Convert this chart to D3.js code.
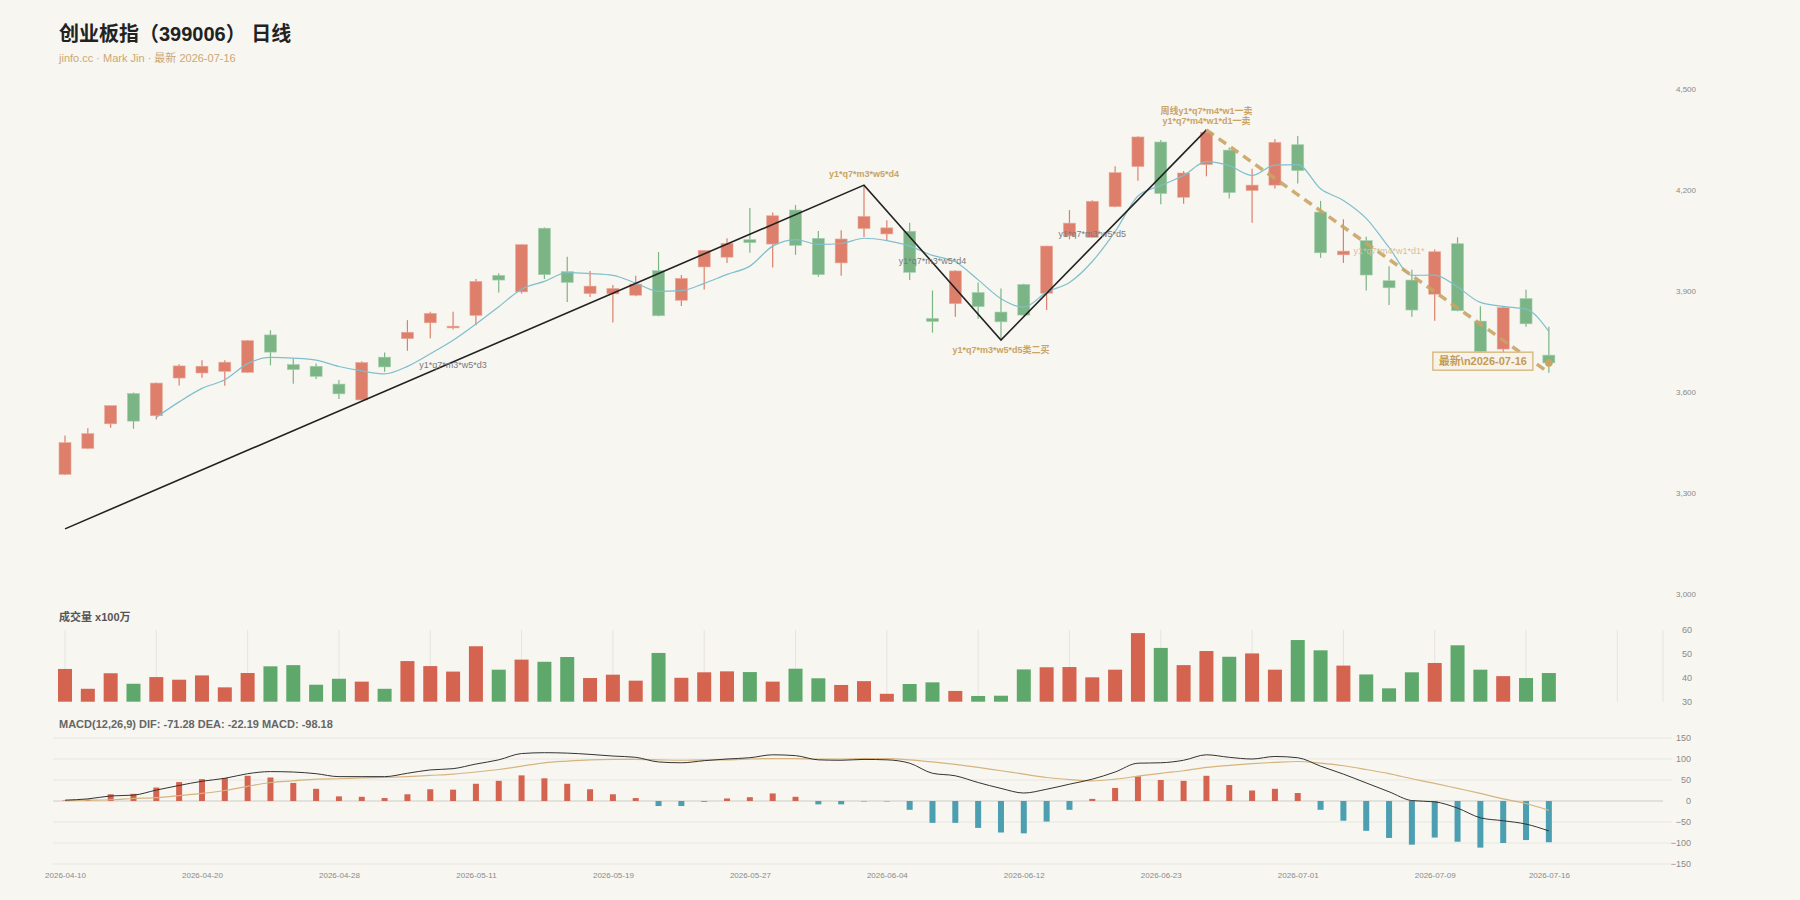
<!DOCTYPE html>
<html>
<head>
<meta charset="utf-8">
<script src="https://cdn.jsdelivr.net/npm/d3@7"></script>
<style>
  body { margin: 0; background: #f7f6f1; }
  svg text { font-family: "Liberation Sans", Arial, "Noto Sans CJK SC", sans-serif; }
</style>
</head>
<body>
<script>
// trading days shown on the chart
var dates = ["2026-04-10","2026-04-13","2026-04-14","2026-04-15","2026-04-16","2026-04-17",
  "2026-04-20","2026-04-21","2026-04-22","2026-04-23","2026-04-24","2026-04-27",
  "2026-04-28","2026-04-29","2026-04-30","2026-05-06","2026-05-07","2026-05-08",
  "2026-05-11","2026-05-12","2026-05-13","2026-05-14","2026-05-15","2026-05-18",
  "2026-05-19","2026-05-20","2026-05-21","2026-05-22","2026-05-25","2026-05-26",
  "2026-05-27","2026-05-28","2026-05-29","2026-06-01","2026-06-02","2026-06-03",
  "2026-06-04","2026-06-05","2026-06-08","2026-06-09","2026-06-10","2026-06-11",
  "2026-06-12","2026-06-15","2026-06-16","2026-06-17","2026-06-18","2026-06-22",
  "2026-06-23","2026-06-24","2026-06-25","2026-06-26","2026-06-29","2026-06-30",
  "2026-07-01","2026-07-02","2026-07-03","2026-07-06","2026-07-07","2026-07-08",
  "2026-07-09","2026-07-10","2026-07-13","2026-07-14","2026-07-15","2026-07-16"];

// daily OHLC
var open  = [3354,3431,3504,3594,3528,3640,3655,3660,3657,3768,3680,3675,3622,3575,3702,3757,3804,3789,
  3826,3945,3896,4085,3956,3891,3890,3886,3959,3871,3970,3999,4051,4038,4139,4055,3982,4084,4068,4076,
  3817,3861,3894,3836,3918,3892,4062,4058,4149,4268,4341,4177,4274,4317,4197,4213,4333,4133,4006,4048,
  3929,3931,3889,4039,3809,3726,3876,3708];
var high  = [3469,3491,3558,3597,3627,3681,3693,3693,3753,3782,3698,3683,3634,3690,3716,3812,3837,3837,
  3934,3951,4038,4087,4000,3958,3916,3944,4014,3946,4019,4055,4145,4132,4154,4077,4079,4213,4109,4101,
  3900,3960,3924,3906,3920,4033,4139,4168,4269,4358,4347,4255,4378,4325,4262,4349,4359,4166,4112,4060,
  3972,3962,4022,4058,3853,3854,3902,3792];
var low   = [3352,3429,3492,3489,3517,3618,3641,3617,3655,3678,3623,3637,3578,3573,3659,3721,3758,3784,
  3797,3894,3891,3934,3866,3881,3805,3883,3823,3854,3903,3982,4012,3968,4006,3941,3944,4059,4050,3931,
  3775,3822,3816,3753,3822,3842,4052,4056,4147,4226,4156,4158,4239,4173,4101,4203,4218,3997,3982,3900,
  3857,3822,3810,3838,3716,3717,3792,3656];
var close = [3448,3475,3558,3512,3625,3676,3675,3687,3751,3717,3665,3645,3593,3686,3673,3776,3832,3794,
  3927,3931,4036,3947,3924,3913,3906,3919,3825,3936,4019,4040,4042,4122,4034,3947,4053,4120,4086,3954,
  3808,3958,3852,3807,3827,4032,4100,4165,4250,4356,4188,4249,4370,4191,4213,4340,4256,4012,4017,3946,
  3908,3842,4015,3840,3718,3849,3801,3685];

// 5-day average, starts on the fifth day
var ma5 = [null,null,null,null,3523.6,3569.2,3609.2,3635.0,3682.8,3701.2,3699.0,3693.0,3674.2,3661.2,
  3652.4,3674.6,3712.0,3752.2,3800.4,3852.0,3904.0,3927.0,3953.0,3950.2,3945.2,3921.8,3897.4,3899.8,
  3921.0,3947.8,3972.4,4031.8,4051.4,4037.0,4039.6,4055.2,4048.0,4032.0,4004.2,3985.2,3931.6,3875.8,
  3850.4,3895.2,3923.6,3986.2,4074.8,4180.6,4211.8,4241.6,4282.6,4270.8,4242.2,4272.6,4274.0,4202.4,
  4167.6,4114.2,4027.8,3945.0,3945.6,3910.2,3864.6,3852.8,3844.6,3778.6];

// volume (x100万)
var volume = [43.7,35.4,41.9,37.5,40.3,39.2,41.0,36.0,42.0,44.8,45.3,37.1,39.6,38.4,35.4,47.0,44.9,42.6,
  53.2,43.4,47.6,46.7,48.7,39.9,41.3,38.8,50.4,40.0,42.3,42.7,42.4,38.4,43.8,39.8,37.0,38.6,33.3,37.4,
  38.1,34.5,32.4,32.5,43.5,44.4,44.5,40.2,43.4,58.7,52.5,45.3,51.2,48.8,50.2,43.4,55.8,51.5,45.1,41.4,
  35.6,42.3,46.2,53.6,43.4,40.7,39.9,42.0];

// MACD(12,26,9)
var dif = [2,5,12,14,26,37,47,54,65,70,69,65,58,58,58,66,74,77,88,98,113,115,114,111,107,104,93,91,96,
  100,103,110,108,98,97,99,98,90,66,60,44,30,19,28,40,52,69,90,91,97,110,104,100,106,103,83,64,43,22,1,
  -2,-17,-40,-47,-55,-71.28];
var dea = [1,2,3,6,8,13,18,25,35,44,48,52,53,55,56,58,61,64,69,75,83,91,95,98,99,99,98,97,98,98,100,101,
  101,100,100,101,101,98,93,87,80,72,64,56,51,48,52,59,66,72,80,85,89,92,94,90,84,75,65,53,42,30,18,5,
  -6,-22.19];
var hist = [1,3,16,17,32,45,52,55,60,56,43,29,11,10,7,16,28,27,41,48,61,54,41,28,16,7,-12,-12,-2,6,9,
  18,10,-8,-8,-1,-1,-21,-52,-52,-64,-75,-77,-49,-21,5,31,59,50,48,60,38,25,29,19,-21,-47,-71,-88,-104,
  -87,-97,-111,-100,-93,-98.18];

// stroke segments [day index, price]
var strokeIdx = [0, 35, 41, 50];
var strokePrice = [3192, 4213, 3753, 4377];
var lastIdx = [50, 65];
var lastPrice = [4377, 3656];

// axis ticks
var priceTicks = [3000, 3300, 3600, 3900, 4200, 4500];
var volTicks = [30, 40, 50, 60];
var macdTicks = [-150, -100, -50, 0, 50, 100, 150];

// svg variables
var width = 1800;
var height = 900;
var slots = 70;
var upColor = "#dd7f6b";
var downColor = "#7bb585";
var gold = "#c9a464";

var svg = d3.select("body")
  .append("svg")
  .attr("width", width)
  .attr("height", height);

svg.append("rect")
  .attr("width", width)
  .attr("height", height)
  .attr("fill", "#f7f6f1");

// scales
var x = d3.scaleLinear().domain([0, slots]).range([65, 1663]);
var yPrice = d3.scaleLinear().domain([3000, 4500]).range([593.5, 88.5]);
var yVol = d3.scaleLinear().domain([30, 60]).range([701.7, 630]);
var yMacd = d3.scaleLinear().domain([-150, 150]).range([864, 738]);

var days = d3.range(dates.length);

// title
svg.append("text")
  .attr("x", 59)
  .attr("y", 41)
  .style("font-size", "20px")
  .style("font-weight", "bold")
  .attr("fill", "#222")
  .text("创业板指（399006） 日线");

svg.append("text")
  .attr("x", 59)
  .attr("y", 62)
  .style("font-size", "11px")
  .attr("fill", "#cba874")
  .text("jinfo.cc · Mark Jin · 最新 2026-07-16");

// price axis labels on the right
svg.append("g")
  .attr("transform", "translate(1696,0)")
  .call(d3.axisRight(yPrice).tickValues(priceTicks).tickFormat(d3.format(",")).tickSize(0))
  .call(function(g) { g.select(".domain").remove(); })
  .selectAll("text")
  .attr("x", 0)
  .attr("text-anchor", "end")
  .attr("fill", "#8a8a8a")
  .style("font-size", "8px");

// candle wicks
svg.append("g").selectAll("line")
  .data(days)
  .enter()
  .append("line")
  .attr("x1", function(i) { return x(i); })
  .attr("x2", function(i) { return x(i); })
  .attr("y1", function(i) { return yPrice(high[i]); })
  .attr("y2", function(i) { return yPrice(low[i]); })
  .attr("stroke", function(i) { return close[i] >= open[i] ? upColor : downColor; })
  .attr("stroke-width", 1.2);

// candle bodies
svg.append("g").selectAll("rect")
  .data(days)
  .enter()
  .append("rect")
  .attr("x", function(i) { return x(i) - 6; })
  .attr("width", 12)
  .attr("y", function(i) { return yPrice(Math.max(open[i], close[i])); })
  .attr("height", function(i) {
    return Math.max(1.5, Math.abs(yPrice(open[i]) - yPrice(close[i])));
  })
  .attr("fill", function(i) { return close[i] >= open[i] ? upColor : downColor; })
  .attr("stroke", function(i) { return close[i] >= open[i] ? "#e9a999" : "#a6cfae"; })
  .attr("stroke-width", 0.6);

// 5 day average line
var maLine = d3.line()
  .defined(function(d) { return d != null; })
  .x(function(d, i) { return x(i); })
  .y(function(d) { return yPrice(d); })
  .curve(d3.curveMonotoneX);

svg.append("path")
  .attr("d", maLine(ma5))
  .attr("fill", "none")
  .attr("stroke", "#7fbfcc")
  .attr("stroke-width", 1.2);

// stroke (zigzag) line
var strokeLine = d3.line()
  .x(function(d) { return x(d[0]); })
  .y(function(d) { return yPrice(d[1]); });

svg.append("path")
  .attr("d", strokeLine(d3.zip(strokeIdx, strokePrice)))
  .attr("fill", "none")
  .attr("stroke", "#222")
  .attr("stroke-width", 1.6);

// unfinished last segment, dashed
svg.append("path")
  .attr("d", strokeLine(d3.zip(lastIdx, lastPrice)))
  .attr("fill", "none")
  .attr("stroke", gold)
  .attr("stroke-width", 3.5)
  .attr("stroke-dasharray", "9,6")
  .attr("opacity", 0.9);

// latest close marker
svg.append("circle")
  .attr("cx", x(65))
  .attr("cy", yPrice(close[65]))
  .attr("r", 3.8)
  .attr("fill", gold);

// annotations: day index, price anchor and pixel offset of the baseline
var notes = [
  {i: 17, p: 3670, t: "y1*q7*m3*w5*d3", c: "#7a7a7a", b: false, dy: 0},
  {i: 35, p: 4213, t: "y1*q7*m3*w5*d4", c: gold, b: true, dy: -8},
  {i: 38, p: 3979, t: "y1*q7*m3*w5*d4", c: "#7a7a7a", b: false, dy: 0},
  {i: 41, p: 3753, t: "y1*q7*m3*w5*d5类二买", c: gold, b: true, dy: 13.5},
  {i: 45, p: 4059, t: "y1*q7*m3*w5*d5", c: "#7a7a7a", b: false, dy: 0},
  {i: 50, p: 4377, t: "y1*q7*m4*w1*d1一卖", c: gold, b: true, dy: -5.5},
  {i: 50, p: 4377, t: "周线y1*q7*m4*w1一卖", c: gold, b: true, dy: -15.5},
  {i: 58, p: 4008, t: "y1*q7*m4*w1*d1*", c: "#d8c097", b: false, dy: 0}
];

svg.append("g").selectAll("text")
  .data(notes)
  .enter()
  .append("text")
  .attr("x", function(d) { return x(d.i); })
  .attr("y", function(d) { return yPrice(d.p) + d.dy; })
  .attr("text-anchor", "middle")
  .attr("fill", function(d) { return d.c; })
  .style("font-size", "9px")
  .style("font-weight", function(d) { return d.b ? "bold" : "normal"; })
  .text(function(d) { return d.t; });

// latest label box
var boxG = svg.append("g").attr("transform", "translate(" + [x(65) - 66, yPrice(3690)] + ")");
boxG.append("rect")
  .attr("x", -50)
  .attr("y", -9)
  .attr("width", 100)
  .attr("height", 18)
  .attr("fill", "#f8f3e8")
  .attr("stroke", "#d9bc88")
  .attr("stroke-width", 1.5);
boxG.append("text")
  .attr("y", 4)
  .attr("text-anchor", "middle")
  .attr("fill", "#c49a55")
  .style("font-size", "11px")
  .style("font-weight", "bold")
  .text("最新\\n2026-07-16");

// volume panel
svg.append("text")
  .attr("x", 59)
  .attr("y", 621)
  .attr("fill", "#555")
  .style("font-size", "11px")
  .style("font-weight", "bold")
  .text("成交量 x100万");

svg.append("g").selectAll("line")
  .data(d3.range(0, slots, 4))
  .enter()
  .append("line")
  .attr("x1", function(i) { return x(i); })
  .attr("x2", function(i) { return x(i); })
  .attr("y1", 630)
  .attr("y2", 702)
  .attr("stroke", "#e6e4de");

svg.append("line")
  .attr("x1", x(slots)).attr("x2", x(slots))
  .attr("y1", 630).attr("y2", 702)
  .attr("stroke", "#e6e4de");

svg.append("g").selectAll("rect")
  .data(days)
  .enter()
  .append("rect")
  .attr("x", function(i) { return x(i) - 7; })
  .attr("width", 14)
  .attr("y", function(i) { return yVol(volume[i]); })
  .attr("height", function(i) { return yVol(30) - yVol(volume[i]); })
  .attr("fill", function(i) { return close[i] >= open[i] ? "#d4634f" : "#5fa86c"; });

svg.append("g")
  .attr("transform", "translate(1692,0)")
  .call(d3.axisRight(yVol).tickValues(volTicks).tickSize(0))
  .call(function(g) { g.select(".domain").remove(); })
  .selectAll("text")
  .attr("x", 0)
  .attr("text-anchor", "end")
  .attr("fill", "#8a8a8a")
  .style("font-size", "9px");

// MACD panel
svg.append("text")
  .attr("x", 59)
  .attr("y", 728)
  .attr("fill", "#666")
  .style("font-size", "11px")
  .style("font-weight", "bold")
  .text("MACD(12,26,9) DIF: -71.28 DEA: -22.19 MACD: -98.18");

svg.append("g").selectAll("line")
  .data(macdTicks)
  .enter()
  .append("line")
  .attr("x1", 53)
  .attr("x2", function(d) { return d === 0 ? x(slots) : 1672; })
  .attr("y1", function(d) { return yMacd(d); })
  .attr("y2", function(d) { return yMacd(d); })
  .attr("stroke", function(d) { return d === 0 ? "#dcdad4" : "#e8e6e0"; })
  .attr("stroke-width", function(d) { return d === 0 ? 1.5 : 1; });

svg.append("g").selectAll("rect")
  .data(days)
  .enter()
  .append("rect")
  .attr("x", function(i) { return x(i) - 3; })
  .attr("width", 6)
  .attr("y", function(i) { return yMacd(Math.max(0, hist[i])); })
  .attr("height", function(i) { return Math.abs(yMacd(hist[i]) - yMacd(0)); })
  .attr("fill", function(i) { return hist[i] >= 0 ? "#d4634f" : "#4b9fb1"; });

var macdLine = d3.line()
  .x(function(d, i) { return x(i); })
  .y(function(d) { return yMacd(d); })
  .curve(d3.curveMonotoneX);

svg.append("path")
  .attr("d", macdLine(dea))
  .attr("fill", "none")
  .attr("stroke", "#d6b47e")
  .attr("stroke-width", 1.2);

svg.append("path")
  .attr("d", macdLine(dif))
  .attr("fill", "none")
  .attr("stroke", "#333")
  .attr("stroke-width", 1);

svg.append("g")
  .attr("transform", "translate(1691,0)")
  .call(d3.axisRight(yMacd).tickValues(macdTicks).tickSize(0))
  .call(function(g) { g.select(".domain").remove(); })
  .selectAll("text")
  .attr("x", 0)
  .attr("text-anchor", "end")
  .attr("fill", "#8a8a8a")
  .style("font-size", "9px");

// date labels, every 6 days plus the last one
var labelIdx = d3.range(0, 61, 6).concat([65]);
svg.append("g")
  .attr("transform", "translate(0,869)")
  .call(d3.axisBottom(x).tickValues(labelIdx).tickFormat(function(i) { return dates[i]; }).tickSize(0))
  .call(function(g) { g.select(".domain").remove(); })
  .selectAll("text")
  .attr("fill", "#8a8a8a")
  .style("font-size", "8px");
</script>
</body>
</html>
